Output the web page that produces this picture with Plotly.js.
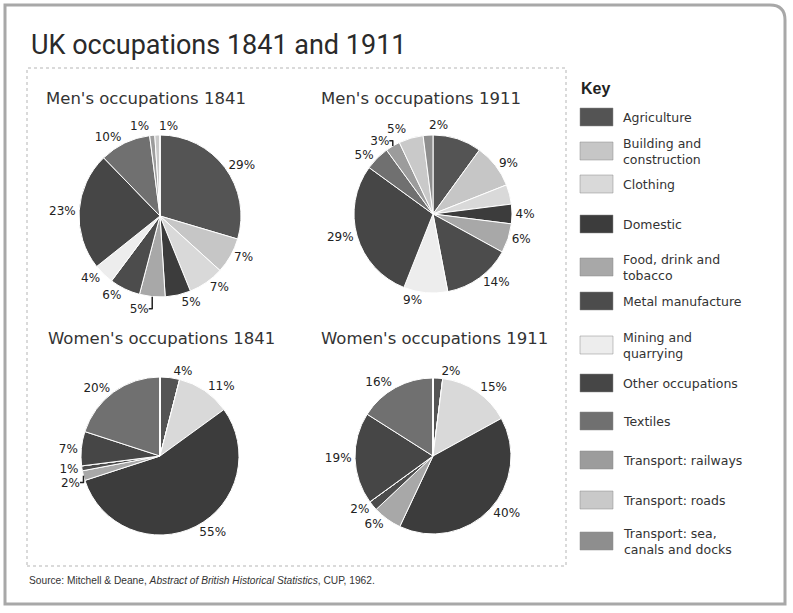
<!DOCTYPE html>
<html>
<head>
<meta charset="utf-8">
<script src="https://cdn.plot.ly/plotly-3.0.1.min.js"></script>
<style>html,body{margin:0;padding:0;background:#fff;}#chart{width:793px;height:613px;}</style>
</head>
<body>
<div id="chart"></div>
<script>
// ---- data ----
const categories = ['Agriculture','Building and construction','Clothing','Domestic','Food, drink and tobacco','Metal manufacture','Mining and quarrying','Other occupations','Textiles','Transport: railways','Transport: roads','Transport: sea, canals and docks'];
const keyLabels = ['Agriculture','Building and<br>construction','Clothing','Domestic','Food, drink and<br>tobacco','Metal manufacture','Mining and<br>quarrying','Other occupations','Textiles','Transport: railways','Transport: roads','Transport: sea,<br>canals and docks'];
const men1841   = [29, 7, 7, 5, 5, 6, 4, 23, 10, 1, 1, 0];
const men1911   = [10, 9, 4, 4, 6, 14, 9, 29, 5, 3, 5, 2];
const women1841 = [4, 0, 11, 55, 2, 1, 0, 7, 20, 0, 0, 0];
const women1911 = [2, 0, 15, 40, 6, 2, 0, 19, 16, 0, 0, 0];
// slices whose share is estimated from the picture (no printed label)
const men1911Unlabelled = ['Agriculture','Clothing'];
// small neighbouring slices whose labels sit side by side at the top of the pie
const men1841SideBySide = ['Transport: railways','Transport: roads'];
const men1911SideBySide = ['Transport: roads','Transport: sea, canals and docks'];
const pieTitles = ["Men's occupations 1841","Men's occupations 1911","Women's occupations 1841","Women's occupations 1911"];
const chartTitle = 'UK occupations 1841 and 1911';
const sourceText = 'Source: Mitchell & Deane, <i>Abstract of British Historical Statistics</i>, CUP, 1962.';

// ---- styles ----
const colors = ['#545454','#c6c6c6','#d9d9d9','#3c3c3c','#a8a8a8','#4c4c4c','#ededed','#464646','#707070','#9c9c9c','#c9c9c9','#8e8e8e'];
const W = 793, H = 613;
const px = x => x / W;
const py = y => 1 - y / H;
function dom(cx, cy, r) { return {x: [px(cx - r), px(cx + r)], y: [py(cy + r), py(cy - r)]}; }
const pctFont = {family: 'DejaVu Sans', size: 12, color: '#222'};

function pie(values, cx, cy, r, hide) {
  hide = hide || [];
  return {
    type: 'pie', labels: categories, values: values, sort: false,
    direction: 'clockwise', rotation: 0,
    text: values.map((v, i) => (v > 0 && hide.indexOf(categories[i]) < 0) ? v + '%' : ''),
    textinfo: 'text', textposition: 'outside',
    textfont: pctFont,
    marker: {colors: colors, line: {color: '#ffffff', width: 1}},
    hoverinfo: 'label+value', showlegend: false,
    domain: dom(cx, cy, r)
  };
}

const P = [[160, 216, 81], [433, 214, 79], [160, 456, 79], [433, 456, 78]];
const data = [
  pie(men1841, P[0][0], P[0][1], P[0][2], men1841SideBySide),
  pie(men1911, P[1][0], P[1][1], P[1][2], men1911Unlabelled.concat(men1911SideBySide)),
  pie(women1841, P[2][0], P[2][1], P[2][2]),
  pie(women1911, P[3][0], P[3][1], P[3][2])
];

const shapes = [
  {type: 'path', xref: 'paper', yref: 'paper',
   path: `M ${px(5)} ${py(604)} L ${px(5)} ${py(5)} L ${px(770)} ${py(5)} Q ${px(785)} ${py(5)} ${px(785)} ${py(20)} L ${px(785)} ${py(604)} Z`,
   line: {color: '#a8a8a8', width: 3}},
  {type: 'rect', xref: 'paper', yref: 'paper', x0: px(27), x1: px(566), y0: py(566), y1: py(68),
   line: {color: '#b5b5b5', width: 1, dash: 'dot'}}
];

const annotations = [
  {text: chartTitle, x: px(29), y: py(45), xref: 'paper', yref: 'paper', xanchor: 'left', yanchor: 'middle', showarrow: false,
   font: {family: 'Roboto', size: 27, color: '#2a2a2a'}},
  {text: sourceText, x: px(27), y: py(580), xref: 'paper', yref: 'paper', xanchor: 'left', yanchor: 'middle', showarrow: false,
   font: {family: 'Liberation Sans, Arial', size: 10.2, color: '#333'}},
  {text: '<b>Key</b>', x: px(579), y: py(89), xref: 'paper', yref: 'paper', xanchor: 'left', yanchor: 'middle', showarrow: false,
   font: {family: 'Liberation Sans, Arial', size: 16, color: '#222'}}
];

// side-by-side labels for small neighbouring slices, placed at their slice angles computed from the data
function sideBySide(values, cats, geo, dist) {
  const total = values.reduce((a, b) => a + b, 0);
  const [cx, cy, r] = geo;
  cats.forEach((c, k) => {
    const i = categories.indexOf(c);
    const before = values.slice(0, i).reduce((a, b) => a + b, 0);
    const ang = (before + values[i] / 2) / total * 2 * Math.PI;
    const x = cx + (r + dist) * Math.sin(ang), y = cy - (r + dist) * Math.cos(ang);
    annotations.push({text: values[i] + '%', x: px(x), y: py(y), xref: 'paper', yref: 'paper',
      xanchor: k === 0 ? 'right' : 'left', yanchor: 'middle', showarrow: false, font: pctFont});
  });
}
sideBySide(men1841, men1841SideBySide, P[0], 9);
sideBySide(men1911, men1911SideBySide, P[1], 10);

const titlePos = [[146, 98], [421, 98], [161, 339], [434, 339]];
pieTitles.forEach((t, i) => annotations.push({
  text: t, x: px(titlePos[i][0]), y: py(titlePos[i][1]), xref: 'paper', yref: 'paper', xanchor: 'center', yanchor: 'middle',
  showarrow: false, font: {family: 'DejaVu Sans', size: 16.5, color: '#333'}
}));

const keyY = [117, 151, 184, 224, 267, 301, 345, 383, 421, 460, 500, 541];
categories.forEach((c, i) => {
  shapes.push({type: 'rect', xref: 'paper', yref: 'paper', x0: px(580), x1: px(613), y0: py(keyY[i] + 9), y1: py(keyY[i] - 9),
    fillcolor: colors[i], line: {color: '#888', width: 0.5}});
  annotations.push({text: keyLabels[i], x: px(621), y: py(keyY[i]), xref: 'paper', yref: 'paper', xanchor: 'left', yanchor: 'middle',
    align: 'left', showarrow: false, font: {family: 'DejaVu Sans', size: 12.5, color: '#333'}});
});

const layout = {
  width: W, height: H, margin: {l: 0, r: 0, t: 0, b: 0},
  paper_bgcolor: '#ffffff', plot_bgcolor: '#ffffff',
  showlegend: false, shapes: shapes, annotations: annotations
};
Plotly.newPlot('chart', data, layout, {staticPlot: true});
</script>
</body>
</html>
